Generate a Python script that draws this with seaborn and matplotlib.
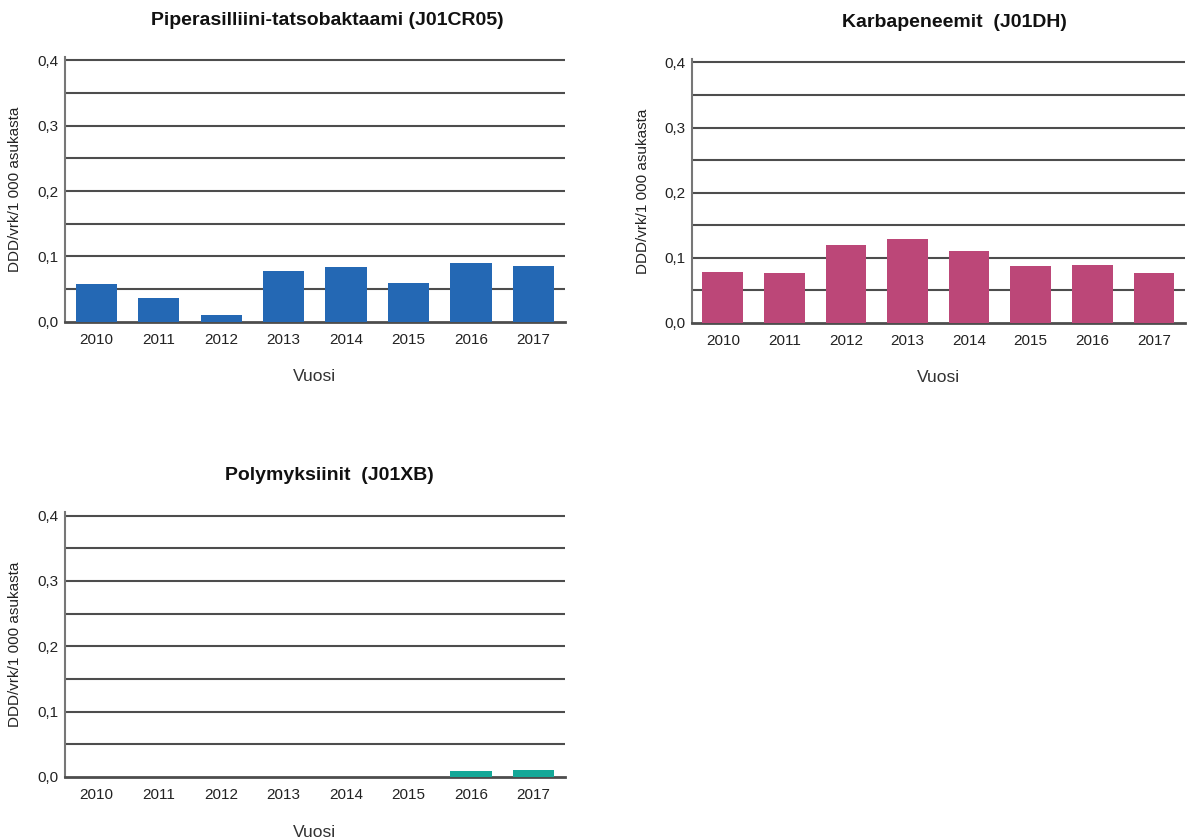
import matplotlib.pyplot as plt
import seaborn as sns
import pandas as pd
from matplotlib.ticker import FuncFormatter

# Data
years = ['2010', '2011', '2012', '2013', '2014', '2015', '2016', '2017']
pip_tatso = [0.057, 0.037, 0.011, 0.078, 0.084, 0.060, 0.090, 0.086]
karbapeneemit = [0.079, 0.076, 0.120, 0.129, 0.111, 0.088, 0.089, 0.076]
polymyksiinit = [0.0, 0.0, 0.0, 0.0, 0.0, 0.0, 0.009, 0.011]

titles = ['Piperasilliini-tatsobaktaami (J01CR05)',
          'Karbapeneemit  (J01DH)',
          'Polymyksiinit  (J01XB)']
colors = ['#2468b4', '#bc4778', '#14a898']
ylabel = 'DDD/vrk/1 000 asukasta'
xlabel = 'Vuosi'

sns.set_style('white')
plt.rcParams['font.family'] = ['Liberation Sans', 'DejaVu Sans']

fig = plt.figure(figsize=(11.9, 8.4), dpi=100)

# axes rectangles in figure fractions, plus title x position
panels = [
    ([0.0546, 0.617, 0.420, 0.315], pip_tatso, 0.524),
    ([0.5815, 0.6155, 0.414, 0.314], karbapeneemit, 0.533),
    ([0.0546, 0.075, 0.420, 0.315], polymyksiinit, 0.53),
]

for i, (rect, vals, tx) in enumerate(panels):
    ax = fig.add_axes(rect)
    df = pd.DataFrame({'Vuosi': years, 'DDD': vals})
    sns.barplot(data=df, x='Vuosi', y='DDD', color=colors[i], saturation=1,
                width=0.66, ax=ax, zorder=3, edgecolor='none', linewidth=0)
    ax.set_xlim(-0.5, 7.5)
    ax.set_ylim(0, 0.405)
    for g in [0.05, 0.1, 0.15, 0.2, 0.25, 0.3, 0.35, 0.4]:
        ax.axhline(g, color='#4d4d4d', lw=1.5, zorder=1)
    ax.set_yticks([0, 0.1, 0.2, 0.3, 0.4])
    ax.yaxis.set_major_formatter(FuncFormatter(lambda v, p: f'{v:.1f}'.replace('.', ',')))
    ax.tick_params(axis='both', length=0, labelsize=11, colors='#222222')
    ax.tick_params(axis='x', pad=8)
    ax.tick_params(axis='y', pad=5)
    for s in ['top', 'right']:
        ax.spines[s].set_visible(False)
    ax.spines['left'].set_color('#777777')
    ax.spines['left'].set_linewidth(1.5)
    ax.spines['bottom'].set_color('#4d4d4d')
    ax.spines['bottom'].set_linewidth(2)
    ax.set_ylabel(ylabel, fontsize=11, color='#222222')
    ax.yaxis.set_label_coords(-0.086, 0.5)
    ax.set_xlabel(xlabel, fontsize=12.5, color='#333333')
    ax.xaxis.set_label_coords(0.5, -0.18)
    ax.text(tx, 1.14, titles[i], transform=ax.transAxes, ha='center', va='center',
            fontsize=14, fontweight='bold', color='#111111')

plt.savefig('out.png', dpi=100)
